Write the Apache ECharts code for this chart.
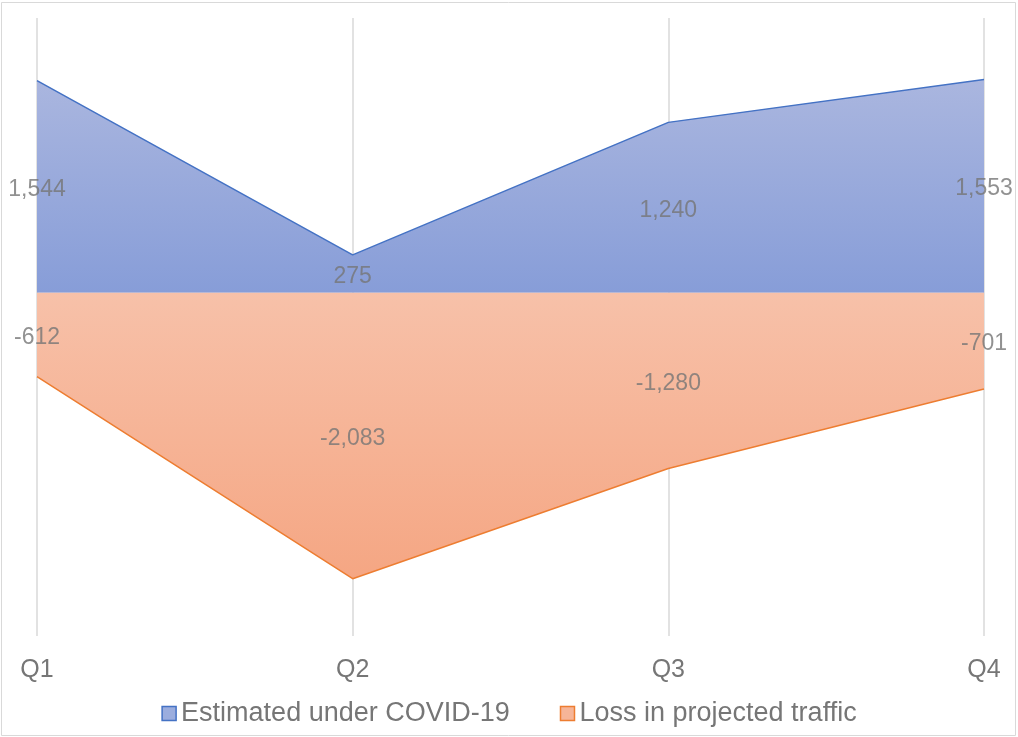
<!DOCTYPE html>
<html>
<head>
<meta charset="utf-8">
<script src="https://cdn.jsdelivr.net/npm/echarts@6/dist/echarts.min.js"></script>
<style>
  html, body { margin: 0; padding: 0; background: #fff; }
  #chart { width: 1018px; height: 737px; }
</style>
</head>
<body>
<div id="chart"></div>
<script>
// quarters + the two series
var quarters = ['Q1', 'Q2', 'Q3', 'Q4'];
var estimated = [1544, 275, 1240, 1553];
var loss = [-612, -2083, -1280, -701];
var seriesNames = ['Estimated under COVID-19', 'Loss in projected traffic'];

var myChart = echarts.init(document.getElementById('chart'));

var fontFamily = '"Liberation Sans", Arial, sans-serif';
var textColor = '#767676';

// labels sit in the middle of each filled area
function midPoints (arr) {
  return arr.map(function (v, i) {
    return { value: [quarters[i], v / 2], raw: v };
  });
}

var labelStyle = {
  show: true,
  position: 'inside',
  offset: [0, 3],
  color: textColor,
  fontFamily: fontFamily,
  fontSize: 23,
  formatter: function (p) {
    return p.data.raw.toLocaleString('en-US');
  }
};

var option = {
  animation: false,
  backgroundColor: '#fff',
  graphic: [{
    type: 'rect',
    shape: { x: 1.5, y: 2.5, width: 1014, height: 733 },
    style: { fill: 'none', stroke: '#d9d9d9', lineWidth: 1 },
    silent: true
  }],
  grid: {
    left: 37,
    right: 34,
    top: 18,
    bottom: 101
  },
  legend: {
    bottom: 5,
    left: 'center',
    itemWidth: 14,
    itemHeight: 14,
    itemGap: 50,
    icon: 'rect',
    textStyle: { color: textColor, fontFamily: fontFamily, fontSize: 27, padding: [0, 0, 0, 0] },
    data: [
      { name: seriesNames[0], itemStyle: { color: '#9badde', borderColor: '#4472c4', borderWidth: 1.5 } },
      { name: seriesNames[1], itemStyle: { color: '#f6b598', borderColor: '#ed7d31', borderWidth: 1.5 } }
    ]
  },
  xAxis: {
    type: 'category',
    boundaryGap: false,
    data: quarters,
    axisLine: { show: false },
    axisTick: { show: false },
    axisLabel: {
      color: textColor,
      fontFamily: fontFamily,
      fontSize: 25,
      margin: 22
    },
    splitLine: {
      show: true,
      lineStyle: { color: '#d9d9d9', width: 1.5 }
    }
  },
  yAxis: {
    type: 'value',
    min: -2500,
    max: 2000,
    interval: 500,
    show: false,
    splitLine: { show: false }
  },
  series: [
    {
      name: seriesNames[0],
      type: 'line',
      data: estimated,
      symbol: 'none',
      lineStyle: { color: '#4472c4', width: 1.5 },
      itemStyle: { color: '#4472c4' },
      areaStyle: {
        opacity: 1,
        color: new echarts.graphic.LinearGradient(0, 0, 0, 1, [
          { offset: 0, color: '#aab6df' },
          { offset: 1, color: '#879dd8' }
        ])
      },
      z: 2
    },
    {
      name: seriesNames[1],
      type: 'line',
      data: loss,
      symbol: 'none',
      lineStyle: { color: '#ed7d31', width: 1.5 },
      itemStyle: { color: '#ed7d31' },
      areaStyle: {
        opacity: 1,
        color: new echarts.graphic.LinearGradient(0, 0, 0, 1, [
          { offset: 0, color: '#f7c1a9' },
          { offset: 1, color: '#f5a683' }
        ])
      },
      z: 2
    },
    {
      type: 'scatter',
      data: midPoints(estimated),
      symbolSize: 0,
      label: labelStyle,
      silent: true,
      z: 5
    },
    {
      type: 'scatter',
      data: midPoints(loss),
      symbolSize: 0,
      label: labelStyle,
      silent: true,
      z: 5
    }
  ]
};

option && myChart.setOption(option);
</script>
</body>
</html>
